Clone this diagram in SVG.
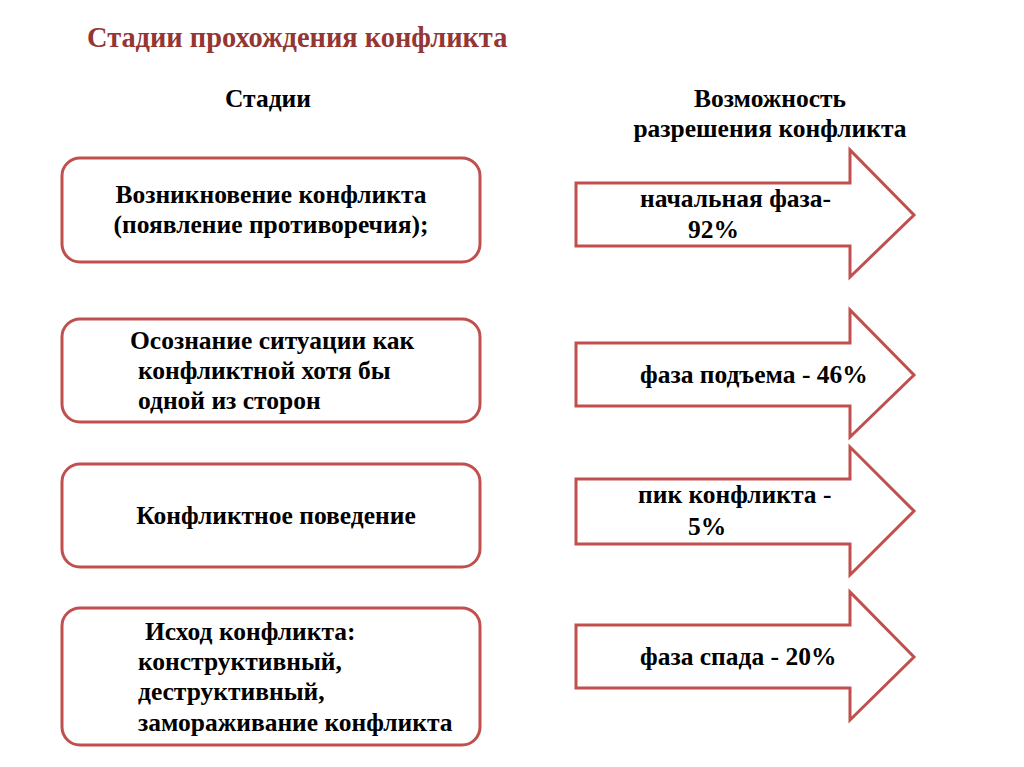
<svg xmlns="http://www.w3.org/2000/svg" width="1024" height="767" viewBox="0 0 1024 767">
<style>
.box{fill:#fff;stroke:#c0504d;stroke-width:3}
.arr{fill:#fff;stroke:#c0504d;stroke-width:3;stroke-linejoin:miter}
.t{font-family:'Liberation Serif','Times New Roman',serif;font-weight:bold;font-size:25.5px;fill:#000}
.title{font-size:28.4px;fill:#943634}
.c{text-anchor:middle}
</style>
<rect width="1024" height="767" fill="#fff"/>
<g class="t">
<g id="title"><text class="title" x="87" y="47">Стадии прохождения конфликта</text></g>
<g id="head-left"><text class="c" x="268" y="107">Стадии</text></g>
<g id="head-right"><text class="c" x="770" y="107">Возможность</text><text class="c" x="770" y="137">разрешения конфликта</text></g>
<g id="stage1"><rect class="box" x="62" y="158" width="418" height="104" rx="18"/><text class="c" x="271" y="203">Возникновение конфликта</text><text class="c" x="271" y="233">(появление противоречия);</text></g>
<g id="stage2"><rect class="box" x="62" y="319" width="418" height="103" rx="18"/><text x="130" y="349">Осознание ситуации как</text><text x="138" y="379">конфликтной хотя бы</text><text x="138" y="409">одной из сторон</text></g>
<g id="stage3"><rect class="box" x="62" y="464" width="418" height="103" rx="18"/><text class="c" x="276" y="524">Конфликтное поведение</text></g>
<g id="stage4"><rect class="box" x="62" y="608" width="418" height="137" rx="18"/><text x="145" y="640">Исход конфликта:</text><text x="138" y="670">конструктивный,</text><text x="138" y="700">деструктивный,</text><text x="138" y="731">замораживание конфликта</text></g>
<g id="phase1"><polygon class="arr" points="576,183 850,183 850,150 914,215 850,277 850,246 576,246"/><text x="640" y="207">начальная фаза-</text><text x="688" y="238">92%</text></g>
<g id="phase2"><polygon class="arr" points="576,343 850,343 850,310 914,375 850,437 850,406 576,406"/><text x="640" y="383">фаза подъема - 46%</text></g>
<g id="phase3"><polygon class="arr" points="576,479 850,479 850,447 914,511 850,575 850,544 576,544"/><text x="638" y="503">пик конфликта -</text><text x="688" y="535">5%</text></g>
<g id="phase4"><polygon class="arr" points="576,625 850,625 850,592 914,657 850,720 850,688 576,688"/><text x="640" y="665">фаза спада - 20%</text></g>
</g>
<g id="connectors"></g>
</svg>
